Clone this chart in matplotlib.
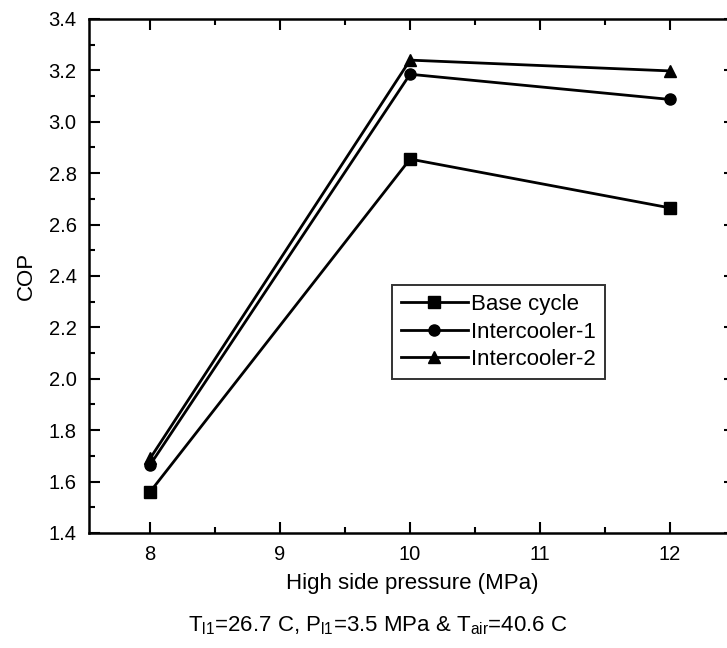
import matplotlib
matplotlib.use("Agg")
import matplotlib.pyplot as plt
from matplotlib.ticker import MultipleLocator

plt.rcParams['font.family'] = ['Liberation Sans', 'DejaVu Sans']
plt.rcParams['mathtext.fontset'] = 'custom'
plt.rcParams['mathtext.rm'] = 'Liberation Sans'
plt.rcParams['mathtext.it'] = 'Liberation Sans'

pressure = [8, 10, 12]
base_cycle = [1.56, 2.855, 2.665]
intercooler1 = [1.665, 3.185, 3.087]
intercooler2 = [1.69, 3.24, 3.198]
series_labels = ["Base cycle", "Intercooler-1", "Intercooler-2"]
markers = ["s", "o", "^"]

fig = plt.figure(figsize=(7.27, 6.48), dpi=100)
ax = fig.add_axes([89/727, (648-533)/648, (735-89)/727, (533-19)/648])

for vals, lab, m in zip([base_cycle, intercooler1, intercooler2], series_labels, markers):
    ax.plot(pressure, vals, color='black', lw=2.0, marker=m, ms=8, label=lab)

ax.set_xlim(7.53, 12.5)
ax.set_ylim(1.4, 3.4)
ax.xaxis.set_major_locator(MultipleLocator(1))
ax.xaxis.set_minor_locator(MultipleLocator(0.5))
ax.yaxis.set_major_locator(MultipleLocator(0.2))
ax.yaxis.set_minor_locator(MultipleLocator(0.1))
ax.yaxis.set_major_formatter(matplotlib.ticker.FormatStrFormatter('%.1f'))
ax.tick_params(which='both', direction='in', top=True, right=True, width=1.5, labelsize=14.5)
ax.tick_params(which='major', length=8)
ax.tick_params(which='minor', length=4)
ax.tick_params(axis='x', pad=9)
ax.tick_params(axis='y', pad=9)
for s in ax.spines.values():
    s.set_linewidth(1.8)

ax.set_xlabel("High side pressure (MPa)", fontsize=16, labelpad=6)
ax.set_ylabel("COP", fontsize=16, labelpad=8)

leg = ax.legend(loc='upper left', bbox_to_anchor=((392-89)/646, (533-285)/514),
                fontsize=16, frameon=True, fancybox=False, edgecolor='black',
                handlelength=3.0, handletextpad=0.15, borderpad=0.4, labelspacing=0.3,
                borderaxespad=0)
leg.get_frame().set_linewidth(1.4)

fig.text(378/727, 1-626/648,
         r"T$_\mathrm{l1}$=26.7 C, P$_\mathrm{l1}$=3.5 MPa & T$_\mathrm{air}$=40.6 C",
         ha='center', va='center', fontsize=16)

fig.savefig("out.png", dpi=100)
